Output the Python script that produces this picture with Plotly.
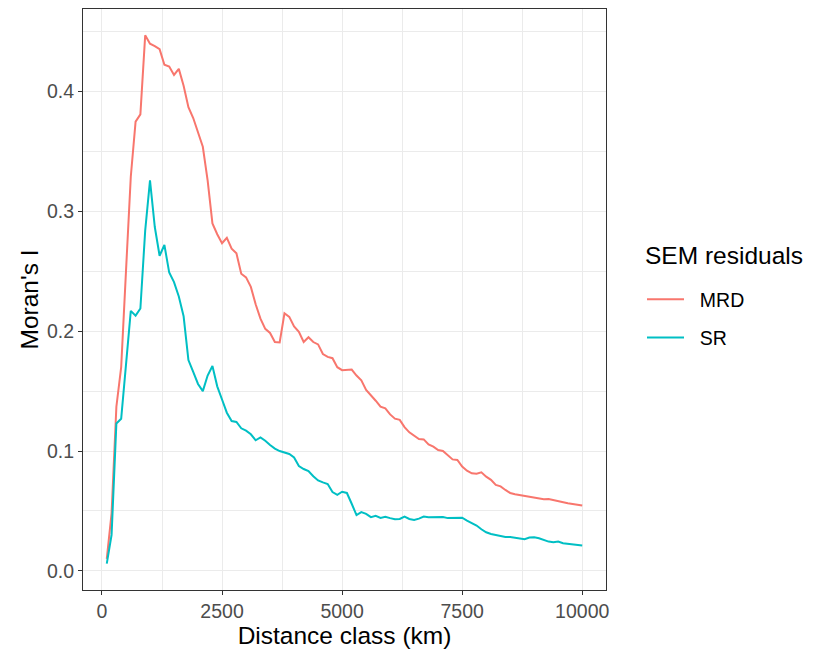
import plotly.graph_objects as go

distance_km = list(range(100, 10001, 100))

mrd = [
    0.010, 0.048, 0.137, 0.170, 0.250, 0.329, 0.375, 0.381, 0.447, 0.440,
    0.438, 0.4355, 0.4225, 0.421, 0.414, 0.419, 0.405, 0.387, 0.378, 0.365,
    0.354, 0.326, 0.290, 0.281, 0.2735, 0.278, 0.269, 0.265, 0.248, 0.245,
    0.237, 0.2225, 0.2105, 0.202, 0.1986, 0.191, 0.1906, 0.215, 0.212, 0.204,
    0.1995, 0.191, 0.195, 0.191, 0.189, 0.181, 0.1786, 0.1775, 0.170, 0.1675,
    0.1675, 0.168, 0.163, 0.159, 0.151, 0.1467, 0.142, 0.137, 0.1356, 0.1306,
    0.127, 0.126, 0.120, 0.1156, 0.1125, 0.110, 0.1097, 0.1056, 0.1036, 0.1008,
    0.100, 0.0967, 0.093, 0.0925, 0.087, 0.0836, 0.0814, 0.081, 0.0822, 0.0786,
    0.076, 0.0717, 0.0705, 0.0675, 0.065, 0.064, 0.0632, 0.0627, 0.0617, 0.0608,
    0.060, 0.0597, 0.060, 0.059, 0.058, 0.057, 0.0564, 0.0558, 0.0552, 0.0545,
]

sr = [
    0.006, 0.030, 0.123, 0.127, 0.172, 0.217, 0.213, 0.219, 0.284, 0.326,
    0.287, 0.263, 0.272, 0.249, 0.241, 0.229, 0.2125, 0.176, 0.166, 0.156,
    0.150, 0.163, 0.171, 0.154, 0.143, 0.132, 0.125, 0.1243, 0.119, 0.117,
    0.114, 0.109, 0.1114, 0.1086, 0.105, 0.102, 0.100, 0.099, 0.0975, 0.0947,
    0.0875, 0.085, 0.0833, 0.079, 0.0755, 0.0738, 0.0725, 0.0658, 0.0635, 0.066,
    0.065, 0.056, 0.0465, 0.049, 0.0475, 0.0448, 0.046, 0.0442, 0.0452, 0.044,
    0.043, 0.0433, 0.0453, 0.0433, 0.0425, 0.0436, 0.0453, 0.0447, 0.0447, 0.0453,
    0.045, 0.044, 0.0443, 0.0447, 0.0444, 0.042, 0.0397, 0.0378, 0.0347, 0.0322,
    0.0308, 0.030, 0.029, 0.0283, 0.0283, 0.0278, 0.0272, 0.0264, 0.0278, 0.028,
    0.0272, 0.0258, 0.0244, 0.0239, 0.0244, 0.023, 0.0225, 0.0217, 0.0214, 0.0211,
]

series_names = ["MRD", "SR"]
series_colors = ["#F8766D", "#00BFC4"]
x_ticks = [0, 2500, 5000, 7500, 10000]
y_ticks = [0.0, 0.1, 0.2, 0.3, 0.4]
legend_title = "SEM residuals"

FONT = "Liberation Sans, Arial, Helvetica, sans-serif"
NB = "\u00a0"

fig = go.Figure()
for name, vals, col in zip(series_names, [mrd, sr], series_colors):
    fig.add_trace(go.Scatter(
        x=distance_km, y=vals, mode="lines", name=NB * 2 + name,
        legendgroup=name,
        line=dict(color=col, width=2),
    ))

axis_common = dict(
    showline=True, mirror=True, linecolor="#333333", linewidth=1,
    ticks="outside", ticklen=4, tickcolor="#333333", tickwidth=1,
    showgrid=True, gridcolor="#EBEBEB", gridwidth=1.2,
    zeroline=False,
    tickfont=dict(family=FONT, size=19.5, color="#4D4D4D"),
)

fig.update_xaxes(
    **axis_common,
    range=[-395, 10495],
    tickvals=x_ticks, ticktext=[str(v) for v in x_ticks],
    minor=dict(tickvals=[1250, 3750, 6250, 8750], showgrid=True,
               gridcolor="#EBEBEB", gridwidth=0.6, ticks=""),
    title=dict(text="Distance class (km)",
               font=dict(family=FONT, size=24.5, color="black"), standoff=1),
)
fig.update_yaxes(
    **axis_common,
    range=[-0.016, 0.469],
    tickvals=y_ticks, ticktext=[f"{v:.1f}" for v in y_ticks],
    minor=dict(tickvals=[0.05, 0.15, 0.25, 0.35, 0.45], showgrid=True,
               gridcolor="#EBEBEB", gridwidth=0.6, ticks=""),
    title=dict(text="Moran's I",
               font=dict(family=FONT, size=24.5, color="black"), standoff=1),
)

fig.add_annotation(
    text=legend_title, xref="paper", yref="paper",
    x=(643 - 83) / 523, y=(590 - 256) / 581,
    xanchor="left", yanchor="middle", showarrow=False,
    font=dict(family=FONT, size=24.5, color="black"),
)

fig.update_layout(
    width=806, height=650,
    margin=dict(l=75, r=208, t=1, b=68),
    plot_bgcolor="white", paper_bgcolor="white",
    showlegend=True,
    legend=dict(
        font=dict(family=FONT, size=19.5, color="black"),
        x=(642 - 83) / 523, xanchor="left", y=(590 - 280) / 581, yanchor="top",
        tracegroupgap=10, itemwidth=37,
        bgcolor="rgba(0,0,0,0)",
    ),
)

fig.write_html("out.html")
